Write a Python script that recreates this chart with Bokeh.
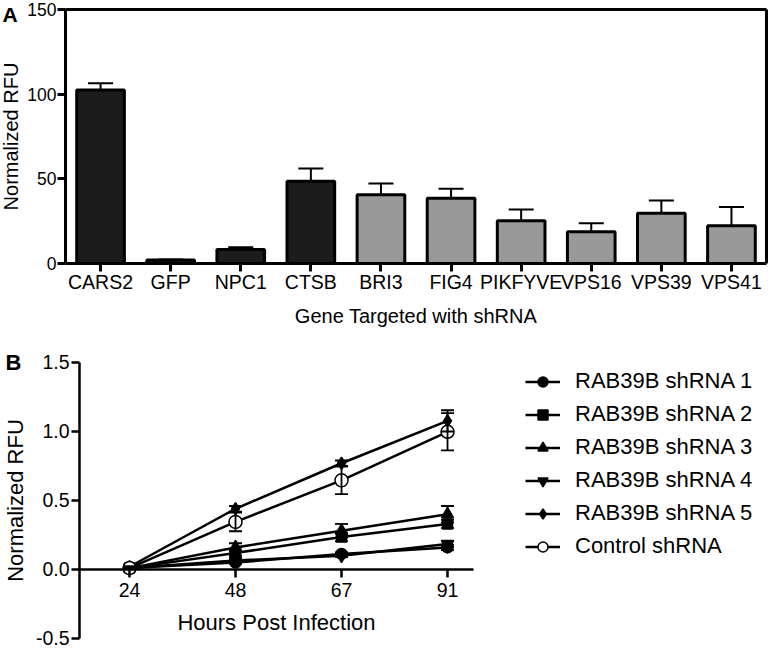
from bokeh.plotting import figure
from bokeh.models import (ColumnDataSource, Whisker, TeeHead, Range1d, Label, Legend,
                          LegendItem, FixedTicker, NumeralTickFormatter, LinearAxis)
from bokeh.layouts import column
from bokeh.embed import file_html
from bokeh.resources import INLINE

FONT = "Liberation Sans"

# ---------------- Panel A data ----------------
genes = ["CARS2", "GFP", "NPC1", "CTSB", "BRI3", "FIG4", "PIKFYVE", "VPS16", "VPS39", "VPS41"]
rfu = [102.4, 2.0, 8.2, 48.6, 40.6, 38.5, 25.2, 18.7, 29.7, 22.3]
rfu_err = [4.0, 0.4, 1.4, 7.5, 6.6, 5.7, 6.7, 5.0, 7.5, 11.0]
gene_group = ["reference"] * 4 + ["candidate"] * 6
group_colors = {"reference": "#1c1c1c", "candidate": "#999999"}
a_yticks = [0, 50, 100, 150]

# ---------------- Panel B data ----------------
hours = ["24", "48", "67", "91"]
series_names = ["RAB39B shRNA 1", "RAB39B shRNA 2", "RAB39B shRNA 3",
                "RAB39B shRNA 4", "RAB39B shRNA 5", "Control shRNA"]
sh1 = [0.01, 0.05, 0.113, 0.16]
sh2 = [0.01, 0.12, 0.235, 0.33]
sh3 = [0.01, 0.16, 0.28, 0.40]
sh4 = [0.01, 0.065, 0.10, 0.185]
sh5 = [0.02, 0.44, 0.77, 1.077]
ctrl = [0.01, 0.345, 0.646, 0.998]
sh1_err = [0.005, 0.01, 0.01, 0.02]
sh2_err = [0.005, 0.02, 0.03, 0.03]
sh3_err = [0.005, 0.03, 0.05, 0.06]
sh4_err = [0.005, 0.01, 0.01, 0.02]
sh5_err = [0.005, 0.02, 0.02, 0.077]
ctrl_err = [0.005, 0.068, 0.10, 0.135]
b_yticks = [-0.5, 0.0, 0.5, 1.0, 1.5]

series_vals = [sh1, sh2, sh3, sh4, sh5, ctrl]
series_errs = [sh1_err, sh2_err, sh3_err, sh4_err, sh5_err, ctrl_err]
markers = ["circle", "square", "triangle", "inverted_triangle", "diamond", "circle"]
marker_sizes = [11, 10, 12, 12, 12, 13]
marker_fills = ["black", "black", "black", "black", "black", "white"]


def style_axis(ax, tick_size, label_size, lw):
    ax.axis_line_width = lw
    ax.axis_line_color = "black"
    ax.major_tick_line_width = lw
    ax.major_tick_line_color = "black"
    ax.major_tick_out = 8
    ax.major_tick_in = 0
    ax.minor_tick_out = 0
    ax.minor_tick_in = 0
    ax.major_label_text_font = FONT
    ax.major_label_text_font_size = tick_size
    ax.major_label_text_color = "black"
    ax.axis_label_text_font = FONT
    ax.axis_label_text_font_size = label_size
    ax.axis_label_text_font_style = "normal"
    ax.axis_label_text_color = "black"


def border_axis(lw, **kw):
    ax = LinearAxis(ticker=FixedTicker(ticks=[]), axis_line_width=lw,
                    axis_line_color="black", major_tick_out=0, major_tick_in=0,
                    minor_tick_out=0, minor_tick_in=0, **kw)
    return ax


# ---------------- Panel A ----------------
gx = list(range(len(genes)))
src_a = ColumnDataSource(dict(
    x=gx, rfu=rfu,
    upper=[v + e for v, e in zip(rfu, rfu_err)],
    lower=[v - e for v, e in zip(rfu, rfu_err)],
    color=[group_colors[g] for g in gene_group],
))

pa = figure(width=768, height=327, x_range=Range1d(-1.4272, 9.5285),
            y_range=Range1d(-37.80, 155.315), output_backend="svg", toolbar_location=None,
            min_border=0)
pa.xgrid.visible = False
pa.ygrid.visible = False
pa.outline_line_color = None

pa.vbar(x="x", top="rfu", width=0.68, source=src_a, fill_color="color",
        line_color="black", line_width=3)
pa.add_layout(Whisker(source=src_a, base="x", upper="upper", lower="lower",
                      line_width=2, line_color="black",
                      upper_head=TeeHead(size=25, line_width=2, line_color="black"),
                      lower_head=TeeHead(size=25, line_width=2, line_color="black")))

style_axis(pa.yaxis[0], "17.5px", "20px", 3)
style_axis(pa.xaxis[0], "19.5px", "20px", 3)
pa.yaxis.ticker = FixedTicker(ticks=a_yticks)
pa.yaxis.fixed_location = -0.5
pa.yaxis.bounds = (0, 150)
pa.yaxis.axis_label = "Normalized RFU"
pa.yaxis.major_label_standoff = 1
pa.yaxis.axis_label_standoff = 2
pa.xaxis.ticker = FixedTicker(ticks=gx)
pa.xaxis.major_label_overrides = {i: g for i, g in zip(gx, genes)}
pa.xaxis.fixed_location = 0
pa.xaxis.bounds = (-0.5, 9.5)
pa.xaxis.axis_label = "Gene Targeted with shRNA"
pa.xaxis.major_label_standoff = 0
pa.xaxis.axis_label_standoff = 8

top_ax = border_axis(3, fixed_location=150, bounds=(-0.5, 9.5))
right_ax = border_axis(3, fixed_location=9.5, bounds=(0, 150))
pa.add_layout(top_ax, "above")
pa.add_layout(right_ax, "right")

pa.add_layout(Label(x=2, x_units="screen", y=325, y_units="screen", text="A",
                    text_font=FONT, text_font_size="21px", text_font_style="bold",
                    text_baseline="top", text_align="left", text_color="black"))

# ---------------- Panel B ----------------
idx = list(range(len(hours)))
pb = figure(width=768, height=323, x_range=Range1d(-1.217, 6.028),
            y_range=Range1d(-0.587, 1.7536), output_backend="svg", toolbar_location=None,
            min_border=0)
pb.xgrid.visible = False
pb.ygrid.visible = False
pb.outline_line_color = None

style_axis(pb.yaxis[0], "19.5px", "22px", 2.5)
style_axis(pb.xaxis[0], "19.5px", "22px", 2.5)
pb.yaxis.ticker = FixedTicker(ticks=b_yticks)
pb.yaxis.formatter = NumeralTickFormatter(format="0.0")
pb.yaxis.fixed_location = -0.4717
pb.yaxis.bounds = (-0.5, 1.5)
pb.yaxis.axis_label = "Normalized RFU"
pb.yaxis.major_label_standoff = 2
pb.yaxis.axis_label_standoff = 5
pb.xaxis.ticker = FixedTicker(ticks=idx)
pb.xaxis.major_label_overrides = {i: h for i, h in zip(idx, hours)}
pb.xaxis.fixed_location = 0
pb.xaxis.bounds = (-0.4717, 3.245)
pb.xaxis.axis_label = "Hours Post Infection"
pb.xaxis.major_label_standoff = 6
pb.xaxis.axis_label_standoff = 9

items = []
for name, vals, errs, mk, ms, mf in zip(series_names, series_vals, series_errs,
                                        markers, marker_sizes, marker_fills):
    src = ColumnDataSource(dict(x=idx, y=vals,
                                upper=[v + e for v, e in zip(vals, errs)],
                                lower=[v - e for v, e in zip(vals, errs)]))
    ln = pb.line("x", "y", source=src, line_width=2.5, line_color="black")
    pb.add_layout(Whisker(source=src, base="x", upper="upper", lower="lower",
                          line_width=1.8, line_color="black", level="glyph",
                          upper_head=TeeHead(size=13, line_width=1.8, line_color="black"),
                          lower_head=TeeHead(size=13, line_width=1.8, line_color="black")))
    sc = pb.scatter("x", "y", source=src, marker=mk, size=ms, fill_color=mf,
                    line_color="black", line_width=1.5)
    items.append(LegendItem(label=name, renderers=[ln, sc]))

legend = Legend(items=items, location=(525, 91), padding=0, margin=0, spacing=7,
                glyph_width=35, glyph_height=25, label_height=25, label_standoff=15,
                label_text_font=FONT, label_text_font_size="22px",
                label_text_color="black", border_line_color=None,
                background_fill_alpha=0)
pb.add_layout(legend)

pb.add_layout(Label(x=5, x_units="screen", y=1.5, y_units="data", text="B",
                    text_font=FONT, text_font_size="22px", text_font_style="bold",
                    text_baseline="middle", text_align="left", text_color="black"))

layout = column(pa, pb, spacing=0)
open("out.html", "w").write(file_html(layout, INLINE))
